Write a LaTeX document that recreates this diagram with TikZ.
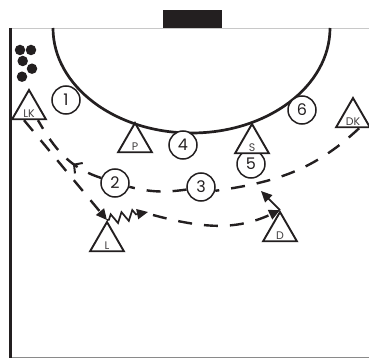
\documentclass[tikz,border=0pt]{standalone}
\usepackage{fontspec}
\setsansfont{Poppins}
\usepackage{xcolor}
\definecolor{Ink}{HTML}{231F20}
\definecolor{Rule}{HTML}{C8C8C8}
\definecolor{RuleDark}{HTML}{8A8A8A}
\usepackage{tikz}
\usetikzlibrary{arrows.meta,shapes.geometric,decorations.pathmorphing,decorations.markings}
\tikzset{
  defender/.style={circle,draw=Ink,fill=white,line width=1.5pt,minimum size=28pt,inner sep=0pt,
    font=\sffamily\fontsize{16}{16}\selectfont,text=Ink},
  attacker/.style={regular polygon,regular polygon sides=3,draw=Ink,fill=white,line width=1.9pt,
    minimum size=39pt,inner sep=0pt},
  tag/.style={inner sep=0pt,anchor=base,font=\sffamily\fontsize{11}{11}\selectfont,text=Ink!85},
  ball/.style={circle,fill=Ink,inner sep=0pt,minimum size=10.5pt},
  run/.style={draw=Ink,line width=2.4pt,dash pattern=on 14pt off 12pt},
  tip/.style={-{Triangle[length=11pt,width=10pt]}},
  midtip/.style={postaction={decorate,decoration={markings,
    mark=at position #1 with {\arrow[line width=2pt]{Straight Barb[length=6pt,width=13pt]}}}}}
}
\begin{document}
\begin{tikzpicture}[x=1pt,y=-1pt]
  \useasboundingbox (0,0) rectangle (369,358);
  % court
  \draw[Rule,line width=0.8pt] (10,28) -- (369,28);
  \draw[RuleDark,line width=0.9pt] (10,357.5) -- (369,357.5);
  \draw[Ink,line width=3.2pt] (10.7,28) -- (10.7,358);
  \fill[Ink] (163,10) rectangle (222,28);
  \draw[Ink,line width=2.7pt] (53,28) arc[start angle=180,end angle=0,x radius=138.5,y radius=105];
  \foreach \bx/\by [count=\i] in {20/50,31/50,22.7/61,32/68.7,22/76.7}
    \node[ball] (ball\i) at (\bx,\by) {};

  % defence
  \node[defender] (n1) at (66,100) {1};
  \node[defender] (n2) at (115,183) {2};
  \node[defender] (n3) at (201,187) {3};
  \node[defender] (n4) at (183,145) {4};
  \node[defender] (n5) at (251,164) {5};
  \node[defender] (n6) at (302,110) {6};

  % attack
  \node[attacker] (LK) at (29,109.5) {};
  \node[attacker] (P) at (135,142.5) {};
  \node[attacker] (S) at (252,143.5) {};
  \node[attacker] (DK) at (353,117.5) {};
  \node[attacker] (L) at (107,241.5) {};
  \node[attacker] (D) at (280,231.5) {};
  \foreach \who in {LK,P,S,DK,L,D}
    \node[tag] (\who-tag) at ([yshift=2.5pt]\who.side 2) {\who};

  \coordinate (drib) at (148,212);
  \coordinate (shot) at (261,191);

  \draw[run,tip] (LK.-115) -- (L.corner 1);
  \draw[Ink,line width=1.7pt,decorate,decoration={zigzag,segment length=11pt,amplitude=5pt,
    pre length=2pt,post length=12pt},tip] (L.corner 1) -- (drib);
  \draw[run,tip] ([xshift=5pt,yshift=-3pt]drib) to[out=-15,in=205] (D.corner 1);
  \draw[Ink,line width=1.8pt,tip] (D.corner 1) -- (shot);

  \draw[run] (DK.-60) to[out=223,in=8] (n3.-15);
  \draw[run] (n3.190) to[out=188,in=-14] (n2.-15);
  \draw[run,midtip=0.36] (n2.160) to[out=162,in=-60] (LK.-50);
\end{tikzpicture}
\end{document}
